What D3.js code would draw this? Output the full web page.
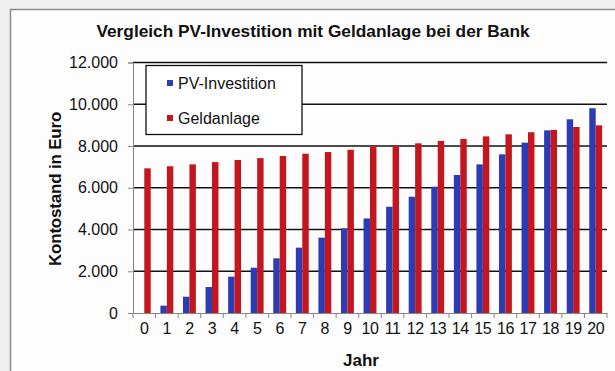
<!DOCTYPE html>
<html>
<head>
<meta charset="utf-8">
<script src="https://cdn.jsdelivr.net/npm/d3@7"></script>
<style>
  html, body { margin: 0; padding: 0; background: #efefef; }
  svg { display: block; font-family: "Liberation Sans", Arial, sans-serif; }
</style>
</head>
<body>
<svg id="chart" width="615" height="371"></svg>
<script>
// Jahre 0..20
const years = d3.range(0, 21).map(String);
// Kontostand PV-Investition (Euro)
const pvInvest = [0, 350, 780, 1245, 1740, 2170, 2620, 3130, 3610, 4060, 4530,
                  5090, 5570, 6050, 6610, 7120, 7600, 8160, 8750, 9280, 9810];
// Kontostand Geldanlage bei der Bank (Euro)
const geldanlage = [6930, 7030, 7120, 7230, 7330, 7420, 7520, 7630, 7710, 7820, 8000,
                    8000, 8130, 8240, 8340, 8460, 8560, 8660, 8770, 8910, 8990];
const yTicks = [0, 2000, 4000, 6000, 8000, 10000, 12000];
const seriesNames = ["PV-Investition", "Geldanlage"];
const seriesColors = ["#2c3cb4", "#c4161f"];

const svg = d3.select("#chart");

// Diagrammbereich
svg.append("rect")
  .attr("x", 10.5).attr("y", 9.5)
  .attr("width", 640).attr("height", 400)
  .attr("fill", "#fdfdfd")
  .attr("stroke", "#8a8a8a").attr("stroke-width", 1.5);

const plot = { left: 133, right: 607, top: 62.5, bottom: 313 };

const x = d3.scaleBand().domain(years).range([plot.left, plot.right]).padding(0);
const y = d3.scaleLinear().domain([0, 12000]).range([plot.bottom, plot.top]);

const bw = x.bandwidth();
const barW = bw / 3.5;
const gap = barW * 0.75;

// Gitternetzlinien
svg.append("g")
  .selectAll("line")
  .data(yTicks.filter(d => d > 0))
  .join("line")
  .attr("x1", plot.left).attr("x2", plot.right)
  .attr("y1", d => y(d)).attr("y2", d => y(d))
  .attr("stroke", "#111").attr("stroke-width", 1.3);

// Säulen
const groups = svg.append("g")
  .selectAll("g")
  .data(years)
  .join("g")
  .attr("transform", d => `translate(${x(d)},0)`);

[pvInvest, geldanlage].forEach((vals, si) => {
  groups.append("rect")
    .attr("x", gap + si * barW)
    .attr("width", barW)
    .attr("y", (d, i) => y(vals[i]))
    .attr("height", (d, i) => y(0) - y(vals[i]))
    .attr("fill", seriesColors[si]);
});

// Y-Achse
const fmt = v => d3.format(",")(v).replace(/,/g, ".");
const yAxis = svg.append("g")
  .attr("transform", `translate(${plot.left},0)`)
  .call(d3.axisLeft(y).tickValues(yTicks).tickFormat(fmt).tickSize(5).tickPadding(10));
yAxis.select(".domain").attr("stroke", "#888");
yAxis.selectAll(".tick line").attr("stroke", "#888");
yAxis.selectAll("text").attr("font-size", 16).attr("fill", "#111")
  .attr("font-family", "Liberation Sans, Arial, sans-serif");

// X-Achse
const xAxis = svg.append("g")
  .attr("transform", `translate(0,${plot.bottom})`)
  .call(d3.axisBottom(x).tickSize(0).tickPadding(10));
xAxis.select(".domain").attr("stroke", "#888");
xAxis.selectAll("text").attr("font-size", 16).attr("fill", "#111")
  .attr("letter-spacing", -0.4)
  .attr("font-family", "Liberation Sans, Arial, sans-serif");
// Teilstriche zwischen den Kategorien
svg.append("g")
  .selectAll("line")
  .data(d3.range(years.length + 1))
  .join("line")
  .attr("x1", i => plot.left + i * bw).attr("x2", i => plot.left + i * bw)
  .attr("y1", plot.bottom).attr("y2", plot.bottom + 5)
  .attr("stroke", "#888");

// Titel
svg.append("text")
  .attr("x", 313).attr("y", 37)
  .attr("text-anchor", "middle")
  .attr("font-size", 17.3).attr("font-weight", "bold").attr("fill", "#111")
  .text("Vergleich PV-Investition mit Geldanlage bei der Bank");

// Achsentitel
svg.append("text")
  .attr("transform", "translate(61,189) rotate(-90)")
  .attr("text-anchor", "middle")
  .attr("font-size", 17).attr("font-weight", "bold").attr("fill", "#111")
  .attr("letter-spacing", -0.2)
  .text("Kontostand in Euro");

svg.append("text")
  .attr("x", 361).attr("y", 366)
  .attr("text-anchor", "middle")
  .attr("font-size", 17).attr("font-weight", "bold").attr("fill", "#111")
  .text("Jahr");

// Legende
const legend = svg.append("g");
legend.append("rect")
  .attr("x", 146).attr("y", 65.5)
  .attr("width", 156).attr("height", 69)
  .attr("fill", "#fff").attr("stroke", "#111").attr("stroke-width", 1.3);
seriesNames.forEach((name, i) => {
  const cy = 83 + i * 35;
  legend.append("rect")
    .attr("x", 167).attr("y", cy - 3)
    .attr("width", 6).attr("height", 6)
    .attr("fill", seriesColors[i]);
  legend.append("text")
    .attr("x", 178).attr("y", cy + 6)
    .attr("font-size", 16).attr("fill", "#111")
    .text(name);
});
</script>
</body>
</html>
